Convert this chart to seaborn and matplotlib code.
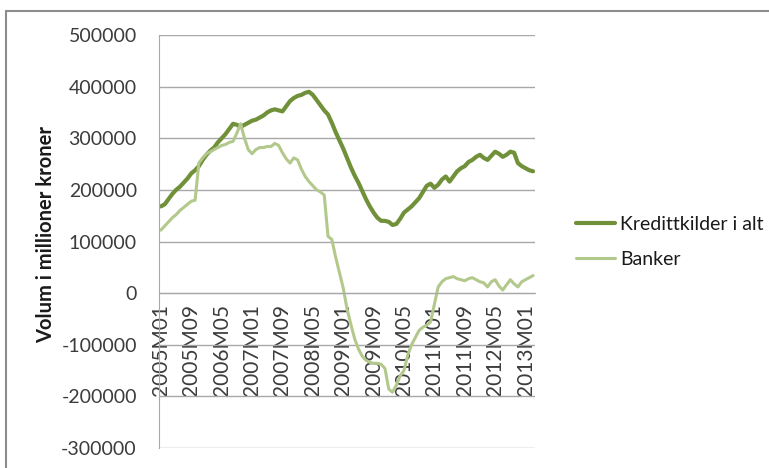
import matplotlib
matplotlib.use("Agg")
import matplotlib.pyplot as plt
import pandas as pd
import seaborn as sns
from matplotlib.lines import Line2D

# Monthly periods 2005M01 .. 2013M03
months = [f"{y}M{m:02d}" for y in range(2005, 2014) for m in range(1, 13)][:99]

# Twelve-month change, million NOK
kredittkilder = [
    168000, 172000, 182000, 192000, 200000, 206000, 214000, 222000, 232000, 238000,
    246000, 258000, 268000, 276000, 282000, 292000, 300000, 308000, 318000, 328000,
    326000, 322000, 326000, 330000, 334000, 336000, 340000, 344000, 350000, 354000,
    356000, 354000, 352000, 362000, 372000, 378000, 382000, 384000, 388000, 390000,
    384000, 374000, 364000, 354000, 346000, 330000, 312000, 296000, 280000, 262000,
    244000, 228000, 214000, 198000, 182000, 168000, 156000, 146000, 140000, 140000,
    138000, 132000, 134000, 144000, 156000, 162000, 168000, 176000, 184000, 196000,
    208000, 212000, 204000, 210000, 220000, 226000, 216000, 226000, 236000, 242000,
    246000, 254000, 258000, 264000, 268000, 262000, 258000, 266000, 274000, 270000,
    264000, 268000, 274000, 272000, 252000, 246000, 242000, 238000, 236000,
]
banker = [
    122000, 130000, 138000, 146000, 152000, 160000, 166000, 172000, 178000, 180000,
    252000, 262000, 270000, 274000, 278000, 282000, 286000, 288000, 292000, 294000,
    310000, 328000, 300000, 278000, 270000, 278000, 282000, 282000, 284000, 284000,
    290000, 286000, 272000, 260000, 252000, 262000, 258000, 240000, 226000, 216000,
    208000, 200000, 196000, 190000, 110000, 104000, 70000, 40000, 10000, -30000,
    -60000, -88000, -108000, -122000, -130000, -134000, -136000, -136000, -138000, -146000,
    -186000, -192000, -178000, -160000, -150000, -120000, -100000, -86000, -72000, -66000,
    -62000, -56000, -22000, 12000, 22000, 28000, 30000, 32000, 28000, 26000,
    24000, 28000, 30000, 26000, 22000, 20000, 12000, 22000, 26000, 14000,
    6000, 16000, 26000, 18000, 12000, 22000, 26000, 30000, 34000,
]

series_names = ["Kredittkilder i alt", "Banker"]
tick_labels = ["2005M01", "2005M09", "2006M05", "2007M01", "2007M09", "2008M05",
               "2009M01", "2009M09", "2010M05", "2011M01", "2011M09", "2012M05",
               "2013M01"]
y_ticks = [-300000, -200000, -100000, 0, 100000, 200000, 300000, 400000, 500000]

df = pd.DataFrame({
    "pos": list(range(len(months))) * 2,
    "periode": months * 2,
    "verdi": kredittkilder + banker,
    "serie": [series_names[0]] * len(months) + [series_names[1]] * len(months),
})

sns.set_style("white")
plt.rcParams["font.family"] = ["Lato", "DejaVu Sans"]

colors = {series_names[0]: "#70903A", series_names[1]: "#B3C98C"}
widths = {series_names[0]: 3.0, series_names[1]: 2.2}

fig = plt.figure(figsize=(7.69, 4.68), dpi=100)
ax = fig.add_axes([159 / 769, 1 - 448 / 468, 376 / 769, 413 / 468])

for name in series_names:
    sub = df[df["serie"] == name]
    sns.lineplot(data=sub, x="pos", y="verdi", color=colors[name],
                 linewidth=widths[name], ax=ax, label=name, legend=False)

ax.set_xlim(-0.5, len(months) - 0.5)
ax.set_ylim(-300000, 500000)
ax.set_yticks(y_ticks)
ax.set_yticklabels([str(v) for v in y_ticks])
ax.set_xticks([months.index(t) for t in tick_labels])
ax.set_xticklabels(tick_labels)

ax.yaxis.grid(True, color="#a8a8a8", linewidth=1)
ax.xaxis.grid(False)
ax.set_axisbelow(True)
for s in ("top", "right"):
    ax.spines[s].set_visible(False)
ax.spines["left"].set_color("#a8a8a8")
ax.spines["bottom"].set_color("#a8a8a8")
ax.spines["bottom"].set_position(("data", 0))

ax.tick_params(axis="y", length=0, pad=16, labelsize=14, labelcolor="#3c3c3c")
ax.tick_params(axis="x", length=0, pad=8, labelsize=15, labelcolor="#3c3c3c",
               labelrotation=90)

ax.set_xlabel("")
ax.set_ylabel("Volum i millioner kroner", fontsize=14.5, fontweight="bold",
              color="#1a1a1a")
ax.yaxis.set_label_coords(-0.274, 0.516)

handles = [Line2D([0], [0], color=colors[n], lw=widths[n]) for n in series_names]
fig.legend(handles, series_names, loc="center left",
           bbox_to_anchor=(566 / 769, 1 - 242 / 468), frameon=False,
           fontsize=14, handlelength=2.0, handletextpad=0.3, labelspacing=0.95,
           borderpad=0, labelcolor="#1a1a1a")

# chart area border (left and top edges)
fig.add_artist(Line2D([6 / 769, 6 / 769], [0, 1 - 11 / 468],
                      transform=fig.transFigure, color="#8c8c8c", lw=1.5))
fig.add_artist(Line2D([6 / 769, 1], [1 - 11 / 468, 1 - 11 / 468],
                      transform=fig.transFigure, color="#8c8c8c", lw=1.5))

fig.savefig("out.png", dpi=100, facecolor="white")
